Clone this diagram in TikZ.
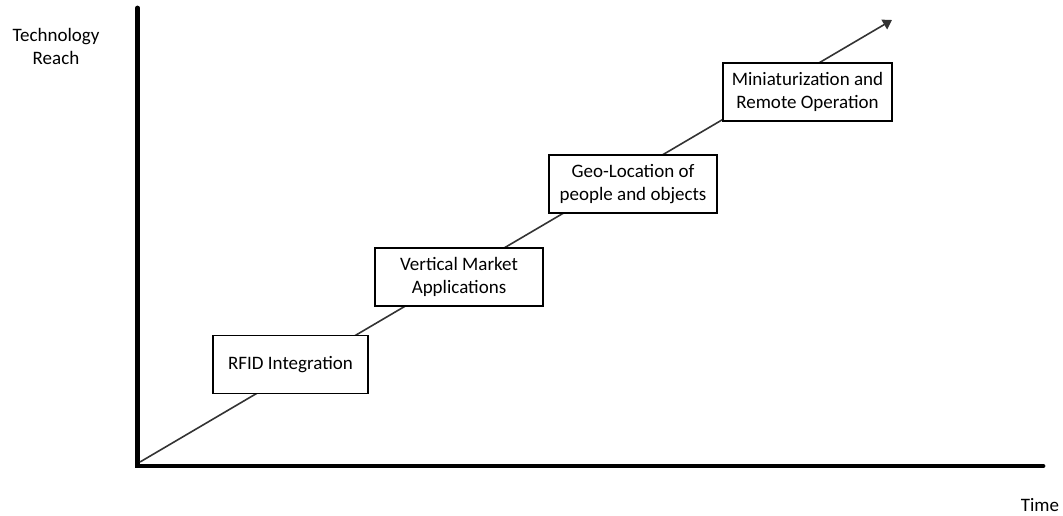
\documentclass[tikz,border=0pt]{standalone}
\usepackage{fontspec}
\setmainfont{Carlito}
\usetikzlibrary{arrows.meta}
\begin{document}
\begin{tikzpicture}[x=1pt,y=-1pt,
  every node/.style={font=\fontsize{19}{23}\selectfont, align=center, inner sep=0pt},
  axis/.style={line width=4.8pt, line join=miter, line cap=round},
  trend/.style={line width=1.6pt, draw=black!80, -{Triangle[length=9pt,width=11pt]}},
  stage/.style={draw=black, line width=1.3pt, fill=white, minimum height=58pt}
]
  \useasboundingbox (0,0) rectangle (1063,516);

  % axes
  \coordinate (ytop) at (137.5,8);
  \coordinate (orig) at (137.5,466);
  \coordinate (xend) at (1043,466);
  \draw[axis] (ytop) -- (orig) -- (xend);

  % trend line
  \coordinate (start) at (140,462);
  \coordinate (tip) at (892,20);
  \draw[trend] (start) -- (tip);

  % axis labels
  \node (ylab) at (56,46) {Technology\\Reach};
  \node[anchor=base] (xlab) at (1040,511) {Time};

  % stages along the trend
  \node[stage, minimum width=155pt] (rfid) at (290.5,364.5) {RFID Integration};
  \node[stage, minimum width=168pt] (vert) at (459,277) {Vertical Market\\Applications};
  \node[stage, minimum width=168pt] (geo) at (633,184) {Geo-Location of\\people and objects};
  \node[stage, minimum width=169pt] (mini) at (807.5,92) {Miniaturization and\\Remote Operation};
\end{tikzpicture}
\end{document}
